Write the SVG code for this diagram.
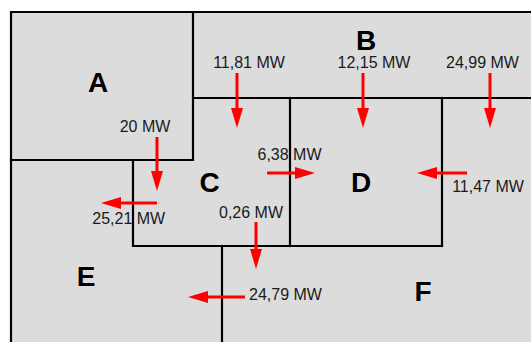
<svg xmlns="http://www.w3.org/2000/svg" width="531" height="342" viewBox="0 0 531 342">
<defs>
<style>
.room{fill:#dcdcdc;stroke:none}
.wall{stroke:#000;stroke-width:2.2;fill:none;stroke-linecap:square}
.lbl{font-family:"Liberation Sans",Arial,sans-serif;font-size:28px;font-weight:bold;fill:#000;text-anchor:middle}
.val{font-family:"Liberation Sans",Arial,sans-serif;font-size:16px;fill:#1a1a1a;text-anchor:middle}
.flow{stroke:#ff0000;stroke-width:3;fill:none;marker-end:url(#ah)}
</style>
<marker id="ah" markerUnits="userSpaceOnUse" markerWidth="22" markerHeight="14" viewBox="0 -7 22 14" refX="0" refY="0" orient="auto">
<path d="M0,-6 L20,0 L0,6 Z" fill="#ff0000"/>
</marker>
</defs>
<rect x="0" y="0" width="531" height="342" fill="#fff"/>
<g id="A"><polygon class="room" points="11,12 193,12 193,160 11,160"/><text class="lbl" x="98" y="92">A</text></g>
<g id="B"><polygon class="room" points="193,12 531,12 531,98 193,98"/><text class="lbl" x="366" y="50">B</text></g>
<g id="C"><polygon class="room" points="133,160 193,160 193,98 290,98 290,246 133,246"/><text class="lbl" x="209.5" y="192">C</text></g>
<g id="D"><polygon class="room" points="290,98 442,98 442,246 290,246"/><text class="lbl" x="361" y="192">D</text></g>
<g id="E"><polygon class="room" points="11,160 133,160 133,246 222,246 222,342 11,342"/><text class="lbl" x="86" y="286">E</text></g>
<g id="F"><polygon class="room" points="222,246 442,246 442,98 531,98 531,342 222,342"/><text class="lbl" x="423" y="301">F</text></g>
<g id="walls">
<path class="wall" d="M11,342 V12 H533"/>
<path class="wall" d="M193,12 V160 H11"/>
<path class="wall" d="M193,98 H533"/>
<path class="wall" d="M290,98 V246"/>
<path class="wall" d="M442,98 V246"/>
<path class="wall" d="M133,160 V246 H442"/>
<path class="wall" d="M222,246 V344"/>
</g>
<g id="connectors">
<line class="flow" x1="237" y1="73" x2="237" y2="108"/>
<line class="flow" x1="363" y1="73" x2="363" y2="108"/>
<line class="flow" x1="490" y1="73" x2="490" y2="108"/>
<line class="flow" x1="157" y1="137" x2="157" y2="171"/>
<line class="flow" x1="157" y1="203" x2="121" y2="203"/>
<line class="flow" x1="267" y1="173" x2="295" y2="173"/>
<line class="flow" x1="467" y1="173" x2="437" y2="173"/>
<line class="flow" x1="256" y1="222" x2="256" y2="249"/>
<line class="flow" x1="245" y1="297" x2="208" y2="297"/>
</g>
<g id="values">
<text class="val" x="249" y="68">11,81 MW</text>
<text class="val" x="374" y="68">12,15 MW</text>
<text class="val" x="482.5" y="68">24,99 MW</text>
<text class="val" x="145" y="132">20 MW</text>
<text class="val" x="289.5" y="160">6,38 MW</text>
<text class="val" x="488" y="192">11,47 MW</text>
<text class="val" x="128.7" y="224">25,21 MW</text>
<text class="val" x="251" y="218">0,26 MW</text>
<text class="val" x="285.5" y="300">24,79 MW</text>
</g>
</svg>
